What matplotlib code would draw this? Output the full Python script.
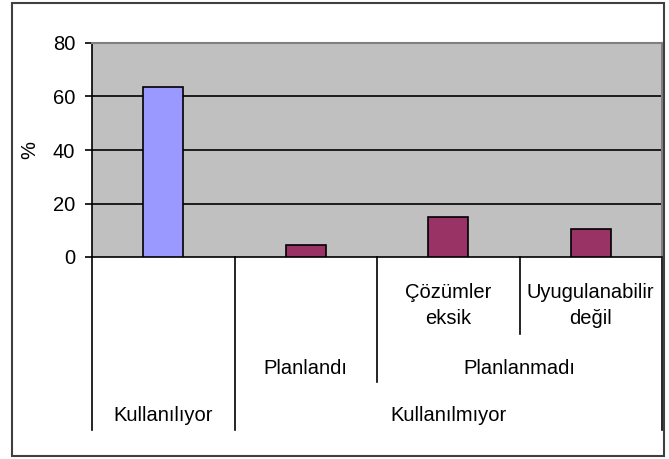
import matplotlib.pyplot as plt
import matplotlib.patches as patches

plt.rcParams['font.family'] = ['Liberation Sans', 'DejaVu Sans']

# data
values = [63.5, 4.5, 14.8, 10.4]
colors = ['#9999FF', '#993366', '#993366', '#993366']
level1 = ['', '', 'Çözümler\neksik', 'Uyugulanabilir\ndeğil']
level2 = [('Planlandı', 1, 1), ('Planlanmadı', 2, 3)]
level3 = [('Kullanılıyor', 0, 0), ('Kullanılmıyor', 1, 3)]

fs = 14.5

fig = plt.figure(figsize=(6.69, 4.59), dpi=100)
ax = fig.add_axes([92 / 669, 1 - 257 / 459, 570 / 669, 214 / 459])
ax.set_facecolor('#C0C0C0')

x = list(range(len(values)))
ax.bar(x, values, width=0.28, color=colors, edgecolor='black', linewidth=1.2, zorder=3)

ax.set_xlim(-0.5, len(values) - 0.5)
ax.set_ylim(0, 80)
ax.set_yticks([0, 20, 40, 60, 80])
ax.tick_params(axis='y', direction='out', length=5, width=1.2, labelsize=fs, pad=7)
ax.set_xticks([])
for y in [20, 40, 60]:
    ax.axhline(y, color='black', linewidth=1.2, zorder=1)
ax.set_ylabel('%', fontsize=fs, labelpad=10)

for s in ['top', 'right']:
    ax.spines[s].set_color('#808080')
    ax.spines[s].set_linewidth(1.5)
ax.spines['left'].set_color('black')
ax.spines['left'].set_linewidth(1.2)
ax.spines['bottom'].set_color('black')
ax.spines['bottom'].set_linewidth(1.2)

tr = ax.get_xaxis_transform()

# level 1 labels and separator
for i, lab in enumerate(level1):
    if lab:
        ax.text(i, -0.225, lab, transform=tr, ha='center', va='center',
                fontsize=fs, linespacing=1.45)
ax.plot([2.5, 2.5], [0, -0.36], transform=tr, color='black', lw=1.2, clip_on=False)

# level 2 labels and separator
for lab, a, b in level2:
    ax.text((a + b) / 2, -0.52, lab, transform=tr, ha='center', va='center', fontsize=fs)
ax.plot([1.5, 1.5], [0, -0.585], transform=tr, color='black', lw=1.2, clip_on=False)

# level 3 labels and separators
for lab, a, b in level3:
    ax.text((a + b) / 2, -0.74, lab, transform=tr, ha='center', va='center', fontsize=fs)
for xb in [-0.5, 0.5, 3.5]:
    ax.plot([xb, xb], [0, -0.81], transform=tr, color='black', lw=1.2, clip_on=False)

# outer chart border
fig.patches.append(patches.Rectangle((12 / 669, 3 / 459), 652 / 669, 453 / 459,
                                     transform=fig.transFigure, fill=False,
                                     edgecolor='#404040', linewidth=1.5))

fig.savefig('out.png', dpi=100)
